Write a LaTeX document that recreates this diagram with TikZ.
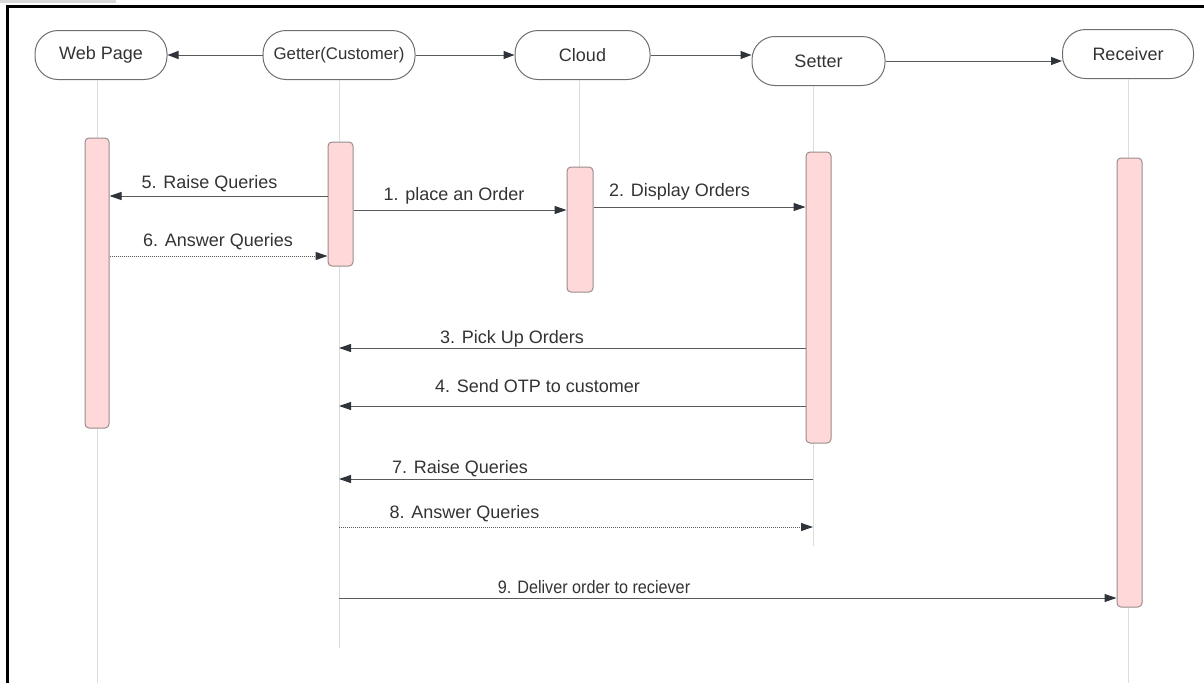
\documentclass[tikz,border=0pt]{standalone}
\usepackage{fontspec}
\setmainfont{Liberation Sans}
\usetikzlibrary{arrows.meta}
\definecolor{txt}{HTML}{333333}
\definecolor{ln}{HTML}{5A5A5A}
\definecolor{tipc}{HTML}{2F333A}
\definecolor{life}{HTML}{DCDCDC}
\definecolor{actfill}{HTML}{FFD9D9}
\definecolor{actdraw}{HTML}{9A8C8C}
\definecolor{hdr}{HTML}{6E6E6E}
\definecolor{strip}{HTML}{D8D8D8}
\begin{document}
\begin{tikzpicture}[x=1pt,y=-1pt,
  head/.style={draw=hdr, line width=1pt, rounded corners=23pt, minimum height=49pt,
    text=txt, font=\fontsize{18}{21}\selectfont, inner sep=0pt},
  actbar/.style={draw=actdraw, fill=actfill, line width=1pt, rounded corners=4pt,
    minimum width=25pt, inner sep=0pt},
  lifeln/.style={draw=life, line width=0.9pt},
  msg/.style={draw=ln, line width=1pt, -{Triangle[length=12pt,width=8pt,color=tipc]}},
  dmsg/.style={msg, densely dotted},
  lbl/.style={text=txt, font=\fontsize{18}{21}\selectfont, anchor=base, inner sep=0pt},
  hdrarrow/.style={draw=ln, line width=1pt, -{Triangle[length=11pt,width=8pt,color=tipc]}}]
\useasboundingbox (0,0) rectangle (1204,683);
% frame
\fill[strip] (0,0) rectangle (116,3);
\draw[line width=3pt, black] (7,683) -- (7,6) -- (1204,6);

% headers
\node[head, minimum width=132pt] (web) at (101,55) {Web Page};
\node[head, minimum width=152pt, font=\fontsize{16.8}{19}\selectfont] (get) at (339,55) {Getter(Customer)};
\node[head, minimum width=135pt] (cld) at (582.5,55) {Cloud};
\node[head, minimum width=133pt] (set) at (818.5,61) {Setter};
\node[head, minimum width=131pt] (rcv) at (1128,54) {Receiver};

% lifeline ends
\coordinate (webend) at (97,683);
\coordinate (getend) at (339,648);
\coordinate (setend) at (813,546);
\coordinate (rcvend) at (1128,683);
\coordinate (cldend) at (579,167);

\draw[lifeln] (web.south -| webend) -- (webend);
\draw[lifeln] (get.south -| getend) -- (getend);
\draw[lifeln] (cld.south -| cldend) -- (cldend);
\draw[lifeln] (set.south -| setend) -- (setend);
\draw[lifeln] (rcv.south -| rcvend) -- (rcvend);

% header arrows
\draw[hdrarrow] (get.west) -- (web.east);
\draw[hdrarrow] (get.east) -- (cld.west);
\draw[hdrarrow] (cld.east) -- (cld.east -| set.west);
\draw[hdrarrow] (set.east) -- (set.east -| rcv.west);

% activation bars
\node[actbar, minimum height=290pt, minimum width=24pt] (wb) at (97,283) {};
\node[actbar, minimum height=124pt] (gb) at (340.5,204) {};
\node[actbar, minimum height=125pt, minimum width=26pt] (cb) at (580,229.5) {};
\node[actbar, minimum height=291pt] (sb) at (818.5,297.5) {};
\node[actbar, minimum height=449pt] (rb) at (1129.5,382.5) {};

% messages
\draw[msg] (gb.east |- 0,210) -- (cb.west |- 0,210);
\node[lbl] (l1) at (454,200) {1. place an Order};
\draw[msg] (cb.east |- 0,207) -- (sb.west |- 0,207);
\node[lbl] (l2) at (679.5,196) {2. Display Orders};
\draw[msg] (gb.west |- 0,196) -- (wb.east |- 0,196);
\node[lbl] (l5) at (209.5,188) {5. Raise Queries};
\draw[dmsg] (wb.east |- 0,256) -- (gb.west |- 0,256);
\node[lbl] (l6) at (218,246) {6. Answer Queries};
\draw[msg] (sb.west |- 0,348) -- (getend |- 0,348);
\node[lbl] (l3) at (512,343) {3. Pick Up Orders};
\draw[msg] (sb.west |- 0,406) -- (getend |- 0,406);
\node[lbl] (l4) at (537.5,392) {4. Send OTP to customer};
\draw[msg] (setend |- 0,479) -- (getend |- 0,479);
\node[lbl] (l7) at (460,473) {7. Raise Queries};
\draw[dmsg] (getend |- 0,527) -- (setend |- 0,527);
\node[lbl] (l8) at (464.5,518) {8. Answer Queries};
\draw[msg] (getend |- 0,598) -- (rb.west |- 0,598);
\node[lbl] (l9) at (594,593) {\scalebox{0.9}[1]{9. Deliver order to reciever}};
\end{tikzpicture}
\end{document}
